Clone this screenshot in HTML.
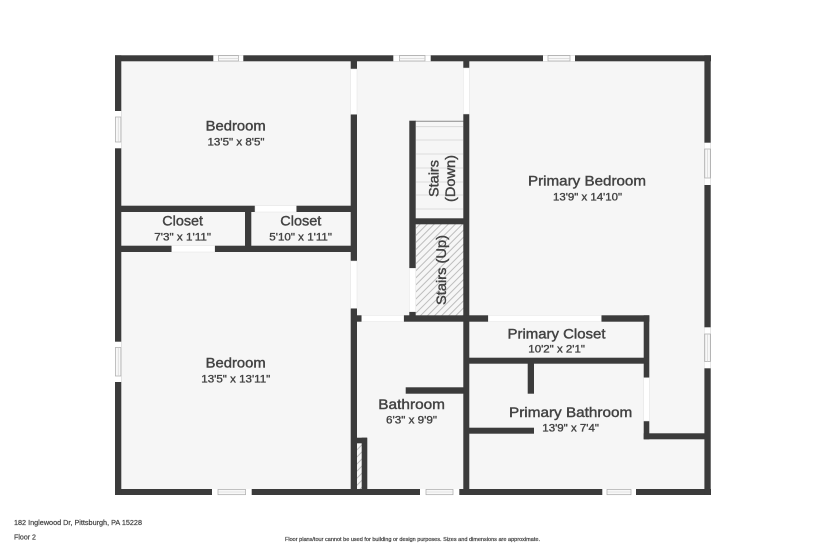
<!DOCTYPE html>
<html><head><meta charset="utf-8"><style>
html,body{margin:0;padding:0;background:#fff}
svg{display:block}
.w rect{fill:#3b3b3b}
.d rect{fill:#fff;stroke:#e2e2e2;stroke-width:.5}
.f rect{fill:#fff;stroke:none}
.g rect{fill:#f8f8f8;stroke:#a8a8a8;stroke-width:.7}
text{font-family:"Liberation Sans",sans-serif;font-weight:400;fill:#424242;stroke:#424242;stroke-width:.4}
.n{font-size:14px}
.s{font-size:11px;stroke-width:.35}
.t{stroke-width:.2}
</style></head><body>
<svg width="825" height="550" viewBox="0 0 825 550" xmlns="http://www.w3.org/2000/svg">
<defs><pattern id="h" width="5" height="5" patternUnits="userSpaceOnUse" patternTransform="rotate(45)"><rect width="5" height="5" fill="#f6f6f6"/><rect width="1" height="5" fill="#bdbdbd"/></pattern></defs>
<rect width="825" height="550" fill="#fff"/>
<rect x="115" y="55" width="596" height="440" fill="#f6f6f6"/>
<rect x="416" y="224" width="48" height="92" fill="url(#h)"/>
<rect x="357" y="443" width="5" height="46" fill="url(#h)"/>
<path d="M415 121.3H464" stroke="#8a8a8a" stroke-width="1" fill="none"/>
<g stroke="#d4d4d4" stroke-width=".8">
<path d="M416 126.7H463M416 140H463M416 154H463M416 168H463M416 182H463M416 195H463M416 209H463" fill="none"/>
</g>
<g class="w">
<rect x="115" y="55.3" width="596" height="6"/>
<rect x="115" y="489" width="596" height="6"/>
<rect x="115" y="55.3" width="6.3" height="439.7"/>
<rect x="704.4" y="55.3" width="6.3" height="439.7"/>
<rect x="350.7" y="61" width="6.3" height="8"/>
<rect x="350.7" y="114.3" width="6.3" height="147"/>
<rect x="350.7" y="308.3" width="6.3" height="181"/>
<rect x="121" y="205.7" width="134" height="6.3"/>
<rect x="296.3" y="205.7" width="55" height="6.3"/>
<rect x="121" y="245.7" width="50.7" height="6.3"/>
<rect x="214.7" y="245.7" width="136.3" height="6.3"/>
<rect x="245" y="212" width="6.3" height="34"/>
<rect x="463.3" y="61" width="6" height="7"/>
<rect x="463.3" y="114" width="6" height="375"/>
<rect x="409.3" y="120.7" width="6.4" height="147.6"/>
<rect x="409.3" y="311.7" width="6.4" height="5"/>
<rect x="415" y="218.3" width="49" height="6"/>
<rect x="357" y="315.3" width="4.7" height="6.4"/>
<rect x="403.7" y="315.3" width="84.6" height="6.4"/>
<rect x="601.3" y="315.3" width="48" height="6.4"/>
<rect x="643.7" y="315.3" width="5.6" height="62.4"/>
<rect x="643.7" y="421" width="5.6" height="18.3"/>
<rect x="643.7" y="433.3" width="61" height="6"/>
<rect x="469" y="357.7" width="180" height="6"/>
<rect x="527.7" y="363" width="6.3" height="30.7"/>
<rect x="469" y="427.7" width="65" height="6"/>
<rect x="405.7" y="387.3" width="58" height="6.4"/>
<rect x="361.7" y="437.7" width="5.6" height="52"/>
<rect x="357" y="437.7" width="10" height="5.6"/>
</g>
<g class="d">
<rect x="350.7" y="69" width="6.3" height="45.3"/>
<rect x="350.7" y="261" width="6.3" height="47.3"/>
<rect x="463.3" y="68" width="6" height="46"/>
<rect x="409.3" y="268.3" width="6.4" height="43.4"/>
<rect x="255" y="205.7" width="41.3" height="6.3"/>
<rect x="171.7" y="245.7" width="43" height="6.3"/>
<rect x="361.7" y="315.3" width="42" height="6.4"/>
<rect x="488.3" y="315.3" width="113" height="6.4"/>
<rect x="643.7" y="377.7" width="5.6" height="43.3"/>
</g>
<g class="f">
<rect x="213.3" y="55.3" width="30" height="6"/>
<rect x="393.3" y="55.3" width="37.4" height="6"/>
<rect x="543" y="55.3" width="32" height="6"/>
<rect x="115" y="111" width="6.3" height="37.3"/>
<rect x="115" y="341.7" width="6.3" height="40.3"/>
<rect x="212" y="489" width="39.7" height="6"/>
<rect x="420" y="489" width="39.3" height="6"/>
<rect x="602.3" y="489" width="33.7" height="6"/>
<rect x="704.4" y="142.7" width="6.3" height="42.3"/>
<rect x="704.4" y="327.3" width="6.3" height="41"/>
</g>
<g class="g">
<rect x="218.5" y="55.6" width="20" height="5.4"/>
<rect x="399.5" y="55.6" width="25.5" height="5.4"/>
<rect x="548" y="55.6" width="22" height="5.4"/>
<rect x="115.4" y="117" width="5.5" height="25"/>
<rect x="115.4" y="347.5" width="5.5" height="28.5"/>
<rect x="218" y="489.4" width="27.5" height="5.3"/>
<rect x="426" y="489.4" width="27" height="5.3"/>
<rect x="607" y="489.4" width="24" height="5.3"/>
<rect x="704.8" y="149" width="5.5" height="29"/>
<rect x="704.8" y="334" width="5.5" height="27.5"/>
</g>
<path d="M218.5 58.3H238.5M399.5 58.3H425M548 58.3H570M218 492H245.5M426 492H453M607 492H631M118.2 117V142M118.2 347.5V376M707.5 149V178M707.5 334V361.5" stroke="#d0d0d0" stroke-width=".6" fill="none"/>

<text class="n" x="205.7" y="130.5" textLength="60" lengthAdjust="spacingAndGlyphs">Bedroom</text>
<text class="s" x="207.5" y="145.3" textLength="57" lengthAdjust="spacingAndGlyphs">13'5" x 8'5"</text>
<text class="n" x="162.3" y="225.7" textLength="40.7" lengthAdjust="spacingAndGlyphs">Closet</text>
<text class="s" x="154.3" y="240.7" textLength="56.7" lengthAdjust="spacingAndGlyphs">7'3" x 1'11"</text>
<text class="n" x="280.3" y="225.7" textLength="41" lengthAdjust="spacingAndGlyphs">Closet</text>
<text class="s" x="269.3" y="240.7" textLength="62.7" lengthAdjust="spacingAndGlyphs">5'10" x 1'11"</text>
<text class="n" x="205.7" y="367.7" textLength="60" lengthAdjust="spacingAndGlyphs">Bedroom</text>
<text class="s" x="201.3" y="382.3" textLength="69" lengthAdjust="spacingAndGlyphs">13'5" x 13'11"</text>
<text class="n" x="378.3" y="409" textLength="66.7" lengthAdjust="spacingAndGlyphs">Bathroom</text>
<text class="s" x="386" y="423.3" textLength="51" lengthAdjust="spacingAndGlyphs">6'3" x 9'9"</text>
<text class="n" x="507.5" y="338.3" textLength="98" lengthAdjust="spacingAndGlyphs">Primary Closet</text>
<text class="s" x="528.3" y="352.3" textLength="56.7" lengthAdjust="spacingAndGlyphs">10'2" x 2'1"</text>
<text class="n" x="509" y="417" textLength="123.3" lengthAdjust="spacingAndGlyphs">Primary Bathroom</text>
<text class="s" x="542.3" y="431.7" textLength="56.7" lengthAdjust="spacingAndGlyphs">13'9" x 7'4"</text>
<text class="n" x="528" y="185.5" textLength="118" lengthAdjust="spacingAndGlyphs">Primary Bedroom</text>
<text class="s" x="553" y="200.5" textLength="69" lengthAdjust="spacingAndGlyphs">13'9" x 14'10"</text>
<text class="n" transform="translate(438.3 197) rotate(-90)" textLength="37" lengthAdjust="spacingAndGlyphs">Stairs</text>
<text class="n" transform="translate(455 202) rotate(-90)" textLength="47" lengthAdjust="spacingAndGlyphs">(Down)</text>
<text class="n" transform="translate(446 305) rotate(-90)" textLength="70" lengthAdjust="spacingAndGlyphs">Stairs (Up)</text>

<text class="t" x="14" y="525" font-size="7" textLength="128" lengthAdjust="spacingAndGlyphs">182 Inglewood Dr, Pittsburgh, PA 15228</text>
<text class="t" x="14" y="539.5" font-size="7" textLength="22" lengthAdjust="spacingAndGlyphs">Floor 2</text>
<text class="t" x="285" y="541" font-size="5" textLength="255" lengthAdjust="spacingAndGlyphs">Floor plans/tour cannot be used for building or design purposes. Sizes and dimensions are approximate.</text>
</svg>
</body></html>
